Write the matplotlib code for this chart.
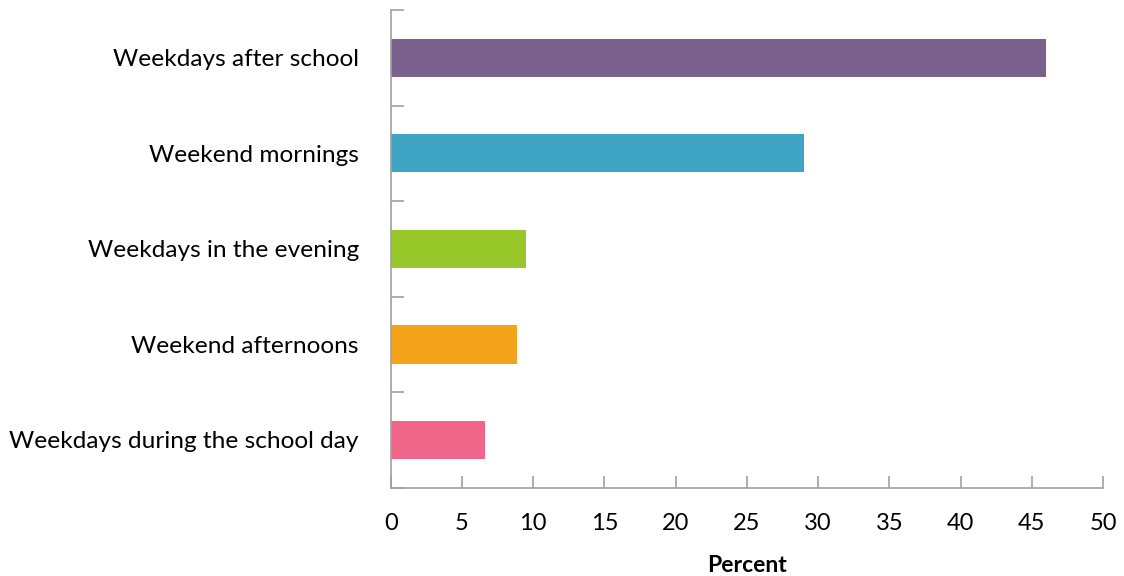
import matplotlib.pyplot as plt

categories = ["Weekdays after school", "Weekend mornings", "Weekdays in the evening",
              "Weekend afternoons", "Weekdays during the school day"]
percent = [46.0, 29.0, 9.5, 8.9, 6.6]
colors = ["#7B618E", "#40A4C4", "#97C728", "#F5A31B", "#F0658A"]
xticks = [0, 5, 10, 15, 20, 25, 30, 35, 40, 45, 50]

plt.rcParams['font.family'] = ['Lato', 'DejaVu Sans']

fig = plt.figure(figsize=(11.24, 5.76), dpi=100)
ax = fig.add_axes([0.3476, 0.1533, 0.6337, 0.8293])

pos = list(range(len(categories)))
ax.barh(pos, percent, height=0.4, color=colors)

ax.set_xlim(0, 50)
ax.set_ylim(len(categories) - 0.5, -0.5)
ax.set_xticks(xticks)
ax.set_xticklabels([str(v) for v in xticks])

# category labels sit between the boundary ticks
ax.set_yticks([p - 0.5 for p in pos] + [len(categories) - 0.5])
ax.set_yticklabels([])
ax.set_yticks(pos, minor=True)
ax.set_yticklabels(categories, minor=True, fontsize=17.6)
ax.tick_params(axis='y', which='minor', length=0, pad=23)
ax.tick_params(axis='y', which='major', direction='in', length=9, color='#A0A0A0', width=1.2)
ax.tick_params(axis='x', direction='in', length=9, color='#A0A0A0', width=1.2, labelsize=17, pad=18)

for s in ['top', 'right']:
    ax.spines[s].set_visible(False)
for s in ['left', 'bottom']:
    ax.spines[s].set_color('#A0A0A0')
    ax.spines[s].set_linewidth(1.2)

ax.set_xlabel("Percent", fontsize=16.5, fontweight='bold', labelpad=15)

fig.savefig("out.png", dpi=100)
